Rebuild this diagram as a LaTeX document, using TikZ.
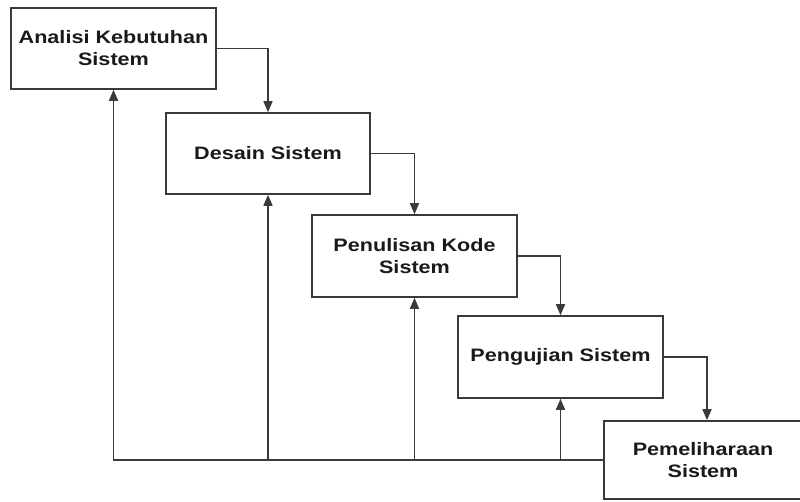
\documentclass[tikz,border=0pt]{standalone}
\usepackage{fontspec}
\setmainfont{Liberation Sans}[FakeStretch=1.2]
\usetikzlibrary{arrows.meta}
\definecolor{linec}{HTML}{3A3A3A}
\definecolor{textc}{HTML}{1A1A1A}
\tikzset{
  stagebox/.style={draw=linec, line width=1.6pt, fill=white, inner sep=0pt,
    align=center, text=textc, font=\fontsize{18}{22}\selectfont\bfseries},
  flow/.style={draw=linec, line width=1.6pt, -{Triangle[length=11pt,width=9pt]}},
  plain/.style={draw=linec, line width=1.6pt}
}
\begin{document}
\begin{tikzpicture}[x=1pt,y=-1pt]
\useasboundingbox (0,0) rectangle (800,502);
\clip (0,0) rectangle (800,502);
\node[stagebox, minimum width=205pt, minimum height=81pt] (b1) at (113.5,48.5) {Analisi Kebutuhan\\Sistem};
\node[stagebox, minimum width=204pt, minimum height=81pt] (b2) at (268,153.5) {Desain Sistem};
\node[stagebox, minimum width=205pt, minimum height=82pt] (b3) at (414.5,256) {Penulisan Kode\\Sistem};
\node[stagebox, minimum width=205pt, minimum height=82pt] (b4) at (560.5,357) {Pengujian Sistem};
\node[stagebox, minimum width=198pt, minimum height=78pt] (b5) at (703,460) {Pemeliharaan\\Sistem};
% forward flow
\draw[flow] (b1.east) -| (b2.north);
\draw[flow] (b2.east) -| (b3.north);
\draw[flow] (b3.east) -| (b4.north);
\draw[flow] (b4.east) -| ([xshift=4pt]b5.north);
% feedback
\coordinate (j2) at (b2.south |- b5.west);
\coordinate (j3) at (b3.south |- b5.west);
\coordinate (j4) at (b4.south |- b5.west);
\draw[flow] (b5.west) -| (b1.south);
\draw[flow] (j2) -- (b2.south);
\draw[flow] (j3) -- (b3.south);
\draw[flow] (j4) -- (b4.south);
\end{tikzpicture}
\end{document}
